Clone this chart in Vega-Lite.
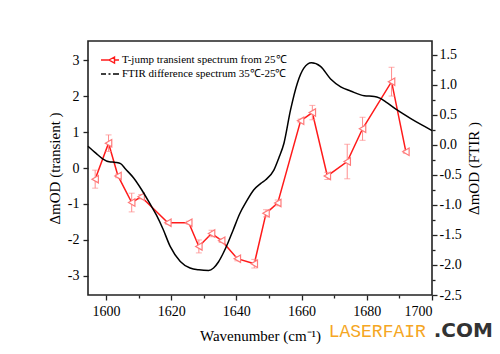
{
  "$schema": "https://vega.github.io/schema/vega-lite/v6.json",
  "width": 344,
  "height": 254,
  "autosize": {"type": "none"},
  "padding": {"left": 88, "top": 41, "right": 68, "bottom": 59},
  "background": "white",
  "config": {
    "view": {"stroke": "#222", "strokeWidth": 1.6},
    "font": "Liberation Serif",
    "axis": {
      "domain": false,
      "grid": false,
      "tickColor": "#222",
      "tickWidth": 1.3,
      "labelFont": "Liberation Serif",
      "labelFontSize": 14,
      "labelColor": "#000",
      "titleFont": "Liberation Serif",
      "titleFontSize": 15,
      "titleFontWeight": "normal",
      "titleColor": "#000"
    },
    "axisBottom": {
      "title": "Wavenumber (cm⁻¹)",
      "values": [1600, 1610, 1620, 1630, 1640, 1650, 1660, 1670, 1680, 1690, 1700],
      "labelExpr": "datum.value % 20 === 0 ? '' + datum.value : ''",
      "tickSize": {"condition": {"test": "datum.value % 20 !== 0", "value": 3}, "value": 5},
      "labelPadding": 4,
      "titlePadding": 10
    },
    "axisLeft": {
      "title": "ΔmOD (transient )",
      "values": [-3.5, -3, -2.5, -2, -1.5, -1, -0.5, 0, 0.5, 1, 1.5, 2, 2.5, 3, 3.5],
      "labelExpr": "datum.value % 1 === 0 ? '' + datum.value : ''",
      "tickSize": {"condition": {"test": "datum.value % 1 !== 0", "value": 3}, "value": 5},
      "labelPadding": 4,
      "titlePadding": 5
    }
  },
  "datasets": {
    "transient": [
      {"wn": 1596.7, "v": -0.31, "lo": -0.56, "hi": -0.06},
      {"wn": 1600.8, "v": 0.69, "lo": 0.46, "hi": 0.92},
      {"wn": 1603.7, "v": -0.22, "lo": -0.27, "hi": -0.17},
      {"wn": 1607.9, "v": -0.96, "lo": -1.22, "hi": -0.7},
      {"wn": 1610.8, "v": -0.8, "lo": -0.86, "hi": -0.74},
      {"wn": 1619.0, "v": -1.52, "lo": -1.56, "hi": -1.48},
      {"wn": 1625.4, "v": -1.52, "lo": -1.56, "hi": -1.48},
      {"wn": 1628.5, "v": -2.18, "lo": -2.36, "hi": -2.0},
      {"wn": 1632.4, "v": -1.82, "lo": -1.91, "hi": -1.73},
      {"wn": 1635.5, "v": -2.02, "lo": -2.07, "hi": -1.97},
      {"wn": 1640.3, "v": -2.52, "lo": -2.58, "hi": -2.46},
      {"wn": 1645.5, "v": -2.66, "lo": -2.78, "hi": -2.54},
      {"wn": 1649.1, "v": -1.26, "lo": -1.36, "hi": -1.16},
      {"wn": 1652.7, "v": -0.97, "lo": -1.05, "hi": -0.89},
      {"wn": 1659.7, "v": 1.31, "lo": 1.26, "hi": 1.36},
      {"wn": 1663.3, "v": 1.54, "lo": 1.34, "hi": 1.74},
      {"wn": 1667.9, "v": -0.22, "lo": -0.32, "hi": -0.12},
      {"wn": 1674.0, "v": 0.18, "lo": -0.3, "hi": 0.66},
      {"wn": 1678.7, "v": 1.09, "lo": 0.77, "hi": 1.41},
      {"wn": 1687.6, "v": 2.4, "lo": 2.0, "hi": 2.8},
      {"wn": 1692.0, "v": 0.45, "lo": 0.41, "hi": 0.49}
    ],
    "ftir": [
      {"wn": 1594.5, "r": -0.02},
      {"wn": 1597, "r": -0.14},
      {"wn": 1599, "r": -0.23},
      {"wn": 1601, "r": -0.28},
      {"wn": 1603, "r": -0.29},
      {"wn": 1604.5, "r": -0.31},
      {"wn": 1606, "r": -0.4},
      {"wn": 1608.5, "r": -0.55},
      {"wn": 1611, "r": -0.75},
      {"wn": 1613.4, "r": -0.97},
      {"wn": 1615.5, "r": -1.17},
      {"wn": 1617.5, "r": -1.4},
      {"wn": 1619.7, "r": -1.69},
      {"wn": 1622.8, "r": -1.94},
      {"wn": 1625.8, "r": -2.05},
      {"wn": 1628.5, "r": -2.08},
      {"wn": 1631.5, "r": -2.09},
      {"wn": 1633, "r": -2.05},
      {"wn": 1634.5, "r": -1.95},
      {"wn": 1636, "r": -1.8},
      {"wn": 1637.5, "r": -1.62},
      {"wn": 1639, "r": -1.42},
      {"wn": 1641, "r": -1.15},
      {"wn": 1643, "r": -0.95},
      {"wn": 1645.3, "r": -0.75},
      {"wn": 1647.5, "r": -0.64},
      {"wn": 1649, "r": -0.58},
      {"wn": 1651.5, "r": -0.42},
      {"wn": 1653, "r": -0.22},
      {"wn": 1654.6, "r": 0.03},
      {"wn": 1656.6, "r": 0.58},
      {"wn": 1658.7, "r": 1.03},
      {"wn": 1660.7, "r": 1.28},
      {"wn": 1663, "r": 1.37},
      {"wn": 1665.8, "r": 1.31},
      {"wn": 1668.9, "r": 1.1},
      {"wn": 1672, "r": 0.97},
      {"wn": 1675, "r": 0.9},
      {"wn": 1679.2, "r": 0.82},
      {"wn": 1682.3, "r": 0.81},
      {"wn": 1684, "r": 0.78},
      {"wn": 1685.8, "r": 0.72},
      {"wn": 1689.4, "r": 0.58},
      {"wn": 1693.5, "r": 0.44},
      {"wn": 1697, "r": 0.33},
      {"wn": 1700, "r": 0.24}
    ]
  },
  "layer": [
    {
      "layer": [
        {
          "data": {"name": "transient"},
          "mark": {"type": "line", "strokeWidth": 1.5},
          "encoding": {
            "x": {"field": "wn", "type": "quantitative", "scale": {"domain": [1594.5, 1700], "nice": false, "zero": false}, "title": "Wavenumber (cm⁻¹)"},
            "y": {"field": "v", "type": "quantitative", "scale": {"domain": [-3.53, 3.53], "nice": false, "zero": false}, "title": "ΔmOD (transient )"},
            "color": {
              "datum": "T-jump transient spectrum from 25℃",
              "type": "nominal",
              "scale": {
                "domain": ["T-jump transient spectrum from 25℃", "FTIR difference spectrum 35℃-25℃"],
                "range": ["#ff1a1a", "#000000"]
              },
              "legend": {
                "orient": "top-left",
                "offset": 13,
                "title": null,
                "padding": 0,
                "labelFont": "Liberation Serif",
                "labelFontSize": 11,
                "labelColor": "#000",
                "labelLimit": 0,
                "labelOffset": 9,
                "symbolSize": 100,
                "symbolStrokeWidth": 1.4,
                "symbolFillColor": "transparent",
                "rowPadding": 2,
                "encode": {
                  "symbols": {
                    "update": {
                      "shape": {"signal": "datum.value === 'FTIR difference spectrum 35℃-25℃' ? 'M-1.2,0L-0.2,0M0.3,0L0.7,0M1.2,0L2.4,0' : 'M-1.2,0L0.4,0M1.5,0L2.4,0M1.5,-0.6L0.4,0L1.5,0.6Z'"},
                      "fillOpacity": {"value": 0}
                    }
                  }
                }
              }
            }
          }
        },
        {
          "data": {"name": "transient"},
          "mark": {"type": "rule", "color": "#ff8c8c", "strokeWidth": 1},
          "encoding": {
            "x": {"field": "wn", "type": "quantitative", "title": "Wavenumber (cm⁻¹)"},
            "y": {"field": "lo", "type": "quantitative", "title": "ΔmOD (transient )"},
            "y2": {"field": "hi"}
          }
        },
        {
          "data": {"name": "transient"},
          "mark": {"type": "tick", "orient": "horizontal", "color": "#ff8c8c", "size": 6, "thickness": 1},
          "encoding": {
            "x": {"field": "wn", "type": "quantitative", "title": "Wavenumber (cm⁻¹)"},
            "y": {"field": "lo", "type": "quantitative", "title": "ΔmOD (transient )"}
          }
        },
        {
          "data": {"name": "transient"},
          "mark": {"type": "tick", "orient": "horizontal", "color": "#ff8c8c", "size": 6, "thickness": 1},
          "encoding": {
            "x": {"field": "wn", "type": "quantitative", "title": "Wavenumber (cm⁻¹)"},
            "y": {"field": "hi", "type": "quantitative", "title": "ΔmOD (transient )"}
          }
        },
        {
          "data": {"name": "transient"},
          "mark": {"type": "point", "shape": "triangle-left", "filled": true, "fill": "white", "stroke": "#ff7a7a", "strokeWidth": 1.2, "size": 55, "opacity": 1},
          "encoding": {
            "x": {"field": "wn", "type": "quantitative", "title": "Wavenumber (cm⁻¹)"},
            "y": {"field": "v", "type": "quantitative", "title": "ΔmOD (transient )"}
          }
        },
        {
          "data": {"values": [{"label": "LASERFAIR"}]},
          "mark": {"type": "text", "align": "left", "baseline": "alphabetic", "font": "Liberation Mono", "fontSize": 18, "fill": "#f5a623", "clip": false},
          "encoding": {
            "x": {"datum": 1668.3, "type": "quantitative", "title": "Wavenumber (cm⁻¹)"},
            "y": {"datum": -4.69, "type": "quantitative", "title": "ΔmOD (transient )"},
            "text": {"field": "label"}
          }
        },
        {
          "data": {"values": [{"label": ".COM"}]},
          "mark": {"type": "text", "align": "left", "baseline": "alphabetic", "font": "DejaVu Sans", "fontWeight": "bold", "fontSize": 20, "fill": "#333333", "clip": false},
          "encoding": {
            "x": {"datum": 1700.5, "type": "quantitative", "title": "Wavenumber (cm⁻¹)"},
            "y": {"datum": -4.7, "type": "quantitative", "title": "ΔmOD (transient )"},
            "text": {"field": "label"}
          }
        }
      ]
    },
    {
      "data": {"name": "ftir"},
      "mark": {"type": "line", "strokeWidth": 1.5, "interpolate": "monotone"},
      "encoding": {
        "x": {"field": "wn", "type": "quantitative", "title": "Wavenumber (cm⁻¹)"},
        "y": {
          "field": "r",
          "type": "quantitative",
          "scale": {"domain": [-2.5, 1.733], "nice": false, "zero": false},
          "axis": {
            "orient": "right",
            "title": "ΔmOD (FTIR )",
            "titleAngle": -90,
            "titleBaseline": "top",
            "values": [-2.5, -2.25, -2, -1.75, -1.5, -1.25, -1, -0.75, -0.5, -0.25, 0, 0.25, 0.5, 0.75, 1, 1.25, 1.5],
            "labelExpr": "(datum.value * 2) % 1 === 0 ? replace(format(datum.value, '.1f'), '\u2212', '-') : ''",
            "tickSize": {"condition": {"test": "(datum.value * 2) % 1 !== 0", "value": 3}, "value": 5},
            "labelPadding": 2,
            "titlePadding": 5
          }
        },
        "color": {"datum": "FTIR difference spectrum 35℃-25℃", "type": "nominal"}
      }
    }
  ],
  "resolve": {"scale": {"y": "independent"}}
}
